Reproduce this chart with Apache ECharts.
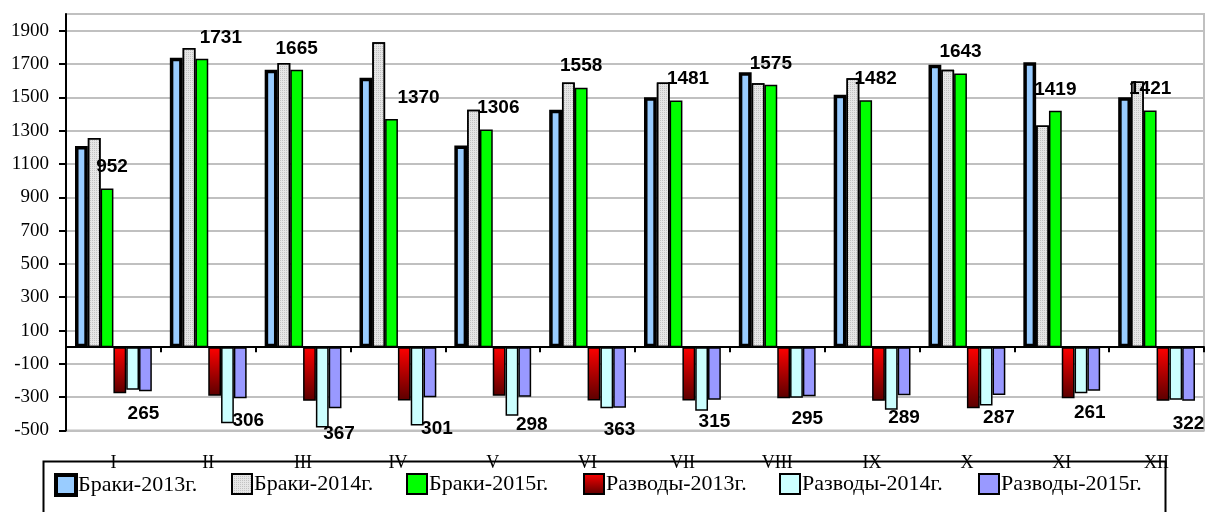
<!DOCTYPE html>
<html>
<head>
<meta charset="utf-8">
<script src="https://cdn.jsdelivr.net/npm/echarts@6/dist/echarts.min.js"></script>
<style>html,body{margin:0;padding:0;background:#fff}#c{width:1206px;height:512px}</style>
</head>
<body>
<div id="c"></div>
<script>
const categories = ['I','II','III','IV','V','VI','VII','VIII','IX','X','XI','XII'];
const seriesNames = ['Браки-2013г.','Браки-2014г.','Браки-2015г.','Разводы-2013г.','Разводы-2014г.','Разводы-2015г.'];
const marriages2013 = [1207,1738,1666,1618,1211,1425,1501,1651,1515,1696,1711,1501];
const marriages2014 = [1255,1796,1706,1830,1425,1589,1589,1585,1615,1665,1331,1595];
const marriages2015 = [952,1731,1665,1370,1306,1558,1481,1575,1482,1643,1419,1421];
const divorces2013 = [-276,-292,-322,-320,-292,-320,-320,-306,-322,-366,-306,-322];
const divorces2014 = [-255,-456,-482,-470,-412,-366,-382,-303,-376,-350,-276,-316];
const divorces2015 = [-265,-306,-367,-301,-298,-363,-315,-295,-289,-287,-261,-322];
const yTicks = {min: -500, max: 2000, interval: 200};

// label nudges (style only)
const marriageLabelNudgeX = [5,19,0,27,12,0,12,0,10,0,0,0];
const divorceLabelNudgeX = [-2,8,4,7,7,0,0,-2,0,0,-4,0];
const divorceLabelNudgeY = [0,0,3,9,5,0,0,0,0,0,0,0];

const serif = "'Liberation Serif','Times New Roman',serif";
const sans = "'Liberation Sans',Arial,sans-serif";
const labelFont = {fontFamily: sans, fontWeight: 'bold', fontSize: 19, color: '#000'};

const styles = [
  {color: '#99ccff', borderColor: '#000', borderWidth: 3.5},
  {color: '#e6e6e6', borderColor: '#000', borderWidth: 1.5,
   decal: {symbol: 'rect', symbolSize: 1, dashArrayX: [1, 1], dashArrayY: [1, 1], color: 'rgba(150,150,150,0.45)', rotation: 0}},
  {color: '#00ff00', borderColor: '#000', borderWidth: 1.5},
  {color: {type: 'linear', x: 0, y: 0, x2: 0, y2: 1, colorStops: [{offset: 0, color: '#ff0000'}, {offset: 1, color: '#5a0000'}]}, borderColor: '#000', borderWidth: 1.5},
  {color: '#ccffff', borderColor: '#000', borderWidth: 1.5},
  {color: '#9999ff', borderColor: '#000', borderWidth: 1.5}
];
const values = [marriages2013, marriages2014, marriages2015, divorces2013, divorces2014, divorces2015];

const series = values.map((vals, si) => {
  const s = {
    name: seriesNames[si], type: 'bar', itemStyle: styles[si],
    barGap: '0%', barCategoryGap: '19%',
    data: vals.slice()
  };
  if (si === 2) {
    s.data = vals.map((v, i) => ({value: v, label: {offset: [marriageLabelNudgeX[i], 0]}}));
    s.label = Object.assign({show: true, position: 'outside', distance: 12, formatter: p => Math.abs(p.value)}, labelFont);
  }
  if (si === 5) {
    s.data = vals.map((v, i) => ({value: v, label: {offset: [divorceLabelNudgeX[i], divorceLabelNudgeY[i]]}}));
    s.label = Object.assign({show: true, position: 'outside', distance: 13, formatter: p => Math.abs(p.value)}, labelFont);
  }
  return s;
});

const legendLefts = [54, 231, 406, 583, 779, 978];
const legends = seriesNames.map((n, i) => ({
  data: [n], left: legendLefts[i], top: 473, padding: 0,
  icon: 'rect',
  itemWidth: 20, itemHeight: 20, itemGap: 0,
  textStyle: {fontFamily: serif, fontSize: 22, color: '#000', padding: [0, 0, 0, -3]},
  itemStyle: {borderWidth: i === 0 ? 4 : 2, borderColor: '#000'},
  selectedMode: false
}));

const chart = echarts.init(document.getElementById('c'), null, {renderer: 'canvas'});
chart.setOption({
  backgroundColor: '#fff',
  animation: false,
  grid: {left: 66, right: 2, top: 14, bottom: 81.5, containLabel: false, outerBoundsMode: 'none',
         show: true, borderColor: '#c0c0c0', borderWidth: 2, backgroundColor: 'transparent'},
  graphic: [{type: 'rect', left: 41, top: 459, z: -10, shape: {width: 1122, height: 80}, style: {fill: 'none', stroke: '#000', lineWidth: 2}}],
  legend: legends,
  xAxis: {
    type: 'category', data: categories,
    axisLine: {onZero: true, lineStyle: {color: '#000', width: 2}},
    axisTick: {show: true, length: 5, lineStyle: {color: '#000', width: 2}},
    axisLabel: {margin: 24, fontFamily: serif, fontSize: 18, color: '#000'},
    splitLine: {show: false}
  },
  yAxis: {
    type: 'value', min: yTicks.min, max: yTicks.max, interval: yTicks.interval,
    axisLine: {show: true, lineStyle: {color: '#000', width: 2}},
    axisTick: {show: true, length: 7, lineStyle: {color: '#000', width: 2}},
    axisLabel: {margin: 17, fontFamily: serif, fontSize: 19, color: '#000', showMaxLabel: false, formatter: v => String(v)},
    splitLine: {show: true, lineStyle: {color: '#c0c0c0', width: 2}}
  },
  series: series
});
</script>
</body>
</html>
